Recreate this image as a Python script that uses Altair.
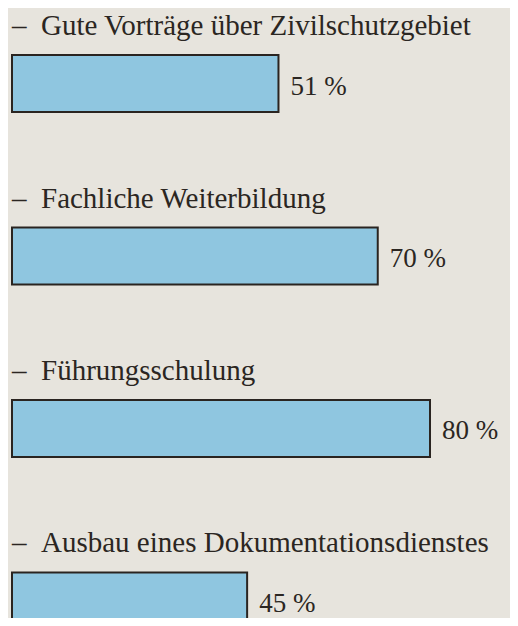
import altair as alt
import pandas as pd

categories = [
    "Gute Vorträge über Zivilschutzgebiet",
    "Fachliche Weiterbildung",
    "Führungsschulung",
    "Ausbau eines Dokumentationsdienstes",
]
values = [51, 70, 80, 45]
labels = ["51 %", "70 %", "80 %", "45 %"]

df = pd.DataFrame({
    "cat": categories,
    "value": values,
    "label": labels,
    "title": ["\u2013\u00a0\u00a0" + c for c in categories],
})

FONT = "'Liberation Serif', 'Times New Roman', Times, serif"
INK = "#2b2622"

xscale = alt.Scale(domain=[0, 100], range=[4, 526.5])
yenc = alt.Y(
    "cat:N",
    sort=categories,
    scale=alt.Scale(range=[0, 668.5], paddingInner=0.6696, paddingOuter=0.2725),
    axis=None,
)

base = alt.Chart(df).transform_calculate(start="0")

bars = base.mark_bar(
    fill="#8fc6e0", stroke="#2a2420", strokeWidth=2, clip=True
).encode(
    x=alt.X("value:Q", scale=xscale, axis=None),
    y=yenc,
)

titles = base.mark_text(
    align="left", baseline="alphabetic", dy=-48.5,
    font=FONT, fontSize=29, color=INK,
).encode(
    x=alt.X("start:Q", scale=xscale, axis=None),
    y=yenc,
    text="title:N",
)

vals = base.mark_text(
    align="left", baseline="alphabetic", dx=12, dy=11,
    font=FONT, fontSize=27, color=INK,
).encode(
    x=alt.X("value:Q", scale=xscale, axis=None),
    y=yenc,
    text="label:N",
)

chart = alt.layer(bars, titles, vals).properties(
    width=502,
    height=610,
    autosize=alt.AutoSizeParams(type="none"),
    padding=0,
    background="#e7e4dd",
).configure_view(stroke=None)

chart.save("out.html", embed_options={"renderer": "svg", "actions": False})
